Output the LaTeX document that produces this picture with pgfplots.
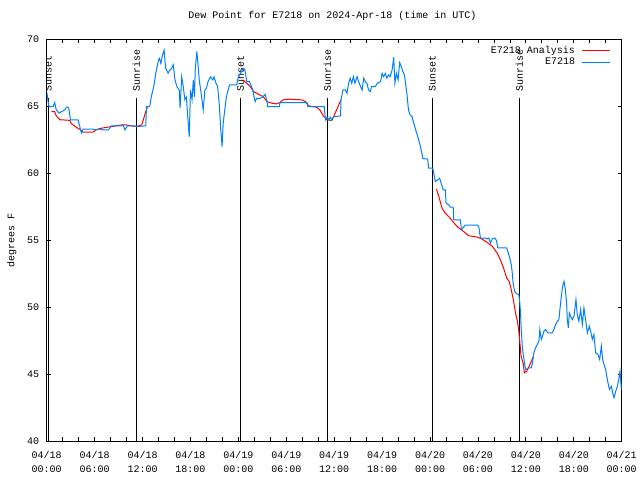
\documentclass[border=0pt]{standalone}
\usepackage{pgfplots}
\pgfplotsset{compat=1.18}
\usepackage{fontspec}
\setmainfont{Liberation Mono}
\definecolor{gblue}{RGB}{0,128,255}
\definecolor{gred}{RGB}{255,0,0}
\begin{document}
\begin{tikzpicture}[font=\fontsize{10bp}{14bp}\selectfont]
\path[use as bounding box] (0,0) rectangle (640bp,480bp);
\begin{axis}[
  at={(46.7bp,38.7bp)}, anchor=south west,
  scale only axis, width=575bp, height=402bp,
  xmin=0, xmax=72, ymin=40, ymax=70,
  xtick={0,6,...,72}, minor x tick num=2,
  xticklabels={{04/18\\00:00},{04/18\\06:00},{04/18\\12:00},{04/18\\18:00},{04/19\\00:00},{04/19\\06:00},{04/19\\12:00},{04/19\\18:00},{04/20\\00:00},{04/20\\06:00},{04/20\\12:00},{04/20\\18:00},{04/21\\00:00}},
  xticklabel style={align=center, font=\fontsize{10bp}{14bp}\selectfont, yshift=-6bp},
  ytick={40,45,...,70},
  yticklabel style={xshift=-4bp},
  tick align=inside, major tick length=4bp, minor tick length=4bp,
  tick style={black, line width=0.8bp},
  axis line style={line width=1bp},
  /pgf/number format/assume math mode=true,
  title={Dew Point for E7218 on 2024-Apr-18 (time in UTC)},
  title style={at={(0.5,1)}, anchor=center, yshift=17.6bp, xshift=-1.7bp},
  ylabel={degrees F},
  ylabel style={at={(axis description cs:0,0.5)}, anchor=center, yshift=35bp},
  legend style={draw=none, fill=none, at={(1,1)}, anchor=north east, xshift=-11bp, yshift=-5.5bp,
    font=\fontsize{10bp}{12bp}\selectfont, row sep=0bp, inner sep=0pt, nodes={inner sep=1.5bp},
    /tikz/every even column/.append style={column sep=5bp}},
  legend plot pos=right, legend cell align=right,
  legend image code/.code={\draw[#1] (0bp,0bp) -- (28bp,0bp);},
  legend entries={E7218 Analysis\hspace*{5bp}, E7218\hspace*{5bp}},
]
% sunrise / sunset markers
\addplot[black, line width=1bp, forget plot] coordinates {(0.2,40)(0.2,65.6)};
\addplot[black, line width=1bp, forget plot] coordinates {(11.22,40)(11.22,65.6)};
\addplot[black, line width=1bp, forget plot] coordinates {(24.29,40)(24.29,65.6)};
\addplot[black, line width=1bp, forget plot] coordinates {(35.14,40)(35.14,65.6)};
\addplot[black, line width=1bp, forget plot] coordinates {(48.28,40)(48.28,65.6)};
\addplot[black, line width=1bp, forget plot] coordinates {(59.18,40)(59.18,65.6)};
\node[rotate=90, anchor=west] at (axis cs:0.2,65.82) {Sunset};
\node[rotate=90, anchor=west] at (axis cs:11.22,65.82) {Sunrise};
\node[rotate=90, anchor=west] at (axis cs:24.29,65.82) {Sunset};
\node[rotate=90, anchor=west] at (axis cs:35.14,65.82) {Sunrise};
\node[rotate=90, anchor=west] at (axis cs:48.28,65.82) {Sunset};
\node[rotate=90, anchor=west] at (axis cs:59.18,65.82) {Sunrise};
% analysis (red)
\addplot[gred, line width=1bp] coordinates {
(0.59,64.6)(1.0,64.6)(1.2,64.28)(1.63,64.0)(2.9,63.95)(3.1,63.7)(3.7,63.44)(4.1,63.3)(4.56,63.07)(5.8,63.07)(6.2,63.24)(6.65,63.34)(7.3,63.41)(8.1,63.49)(9.37,63.61)(10.0,63.61)(10.6,63.54)(11.25,63.49)(11.9,63.61)(12.1,63.99)(12.4,64.6)(12.6,64.93)};
\addplot[gred, line width=1bp, forget plot] coordinates {
(24.6,66.97)(25.05,66.72)(25.5,66.47)(25.9,66.1)(26.3,65.97)(27.1,65.72)(27.6,65.35)(28.2,65.23)(28.8,65.18)(29.2,65.28)(29.6,65.48)(30.3,65.53)(31.95,65.48)(32.4,65.35)(32.8,65.03)(33.8,64.93)(34.2,64.73)(34.7,64.23)(35.1,64.0)(35.7,63.94)(35.9,64.19)(36.3,64.73)(36.7,65.28)(36.85,65.48)};
\addplot[gred, line width=1bp, forget plot] coordinates {
(48.8,58.82)(49.1,58.27)(49.5,57.4)(49.9,57.03)(50.5,56.66)(51.0,56.29)(51.6,55.92)(52.2,55.66)(52.85,55.34)(53.9,55.24)(54.5,55.1)(55.15,54.84)(55.8,54.55)(56.4,54.05)(56.8,53.56)(57.2,52.94)(57.6,52.19)(57.9,51.94)(58.1,51.5)(58.3,50.95)(58.5,50.33)(58.7,49.58)(58.9,49.08)(59.1,48.34)(59.25,47.35)(59.4,46.35)(59.7,45.73)(59.8,45.11)(60.1,45.23)(60.4,45.6)(60.7,45.98)(60.9,46.3)};
% observations (blue)
\addplot[gblue, line width=1bp] coordinates {
(0.04,66.0)(0.17,65.35)(0.29,64.98)(0.8,64.98)(1.0,65.28)(1.2,64.73)(1.55,64.5)(1.84,64.6)(2.26,64.73)(2.47,64.93)(2.67,64.93)(2.8,64.73)(2.97,63.99)(3.93,63.99)(4.14,63.5)(4.35,63.0)(4.56,63.3)(5.8,63.3)(6.0,63.24)(6.65,63.3)(7.06,63.24)(7.7,63.24)(7.9,63.37)(8.1,63.54)(9.37,63.54)(9.57,63.6)(9.8,63.24)(10.1,63.54)(10.8,63.54)(11.46,63.5)(12.4,63.54)(12.5,64.98)(12.9,64.98)(13.1,65.72)(13.4,66.47)(13.7,67.6)(14.0,68.46)(14.1,68.58)(14.3,68.2)(14.5,68.83)(14.7,69.2)(14.8,68.46)(14.9,67.84)(15.2,67.47)(15.4,67.7)(15.6,67.77)(15.85,68.1)(16.06,66.97)(16.3,66.47)(16.6,66.2)(16.7,64.86)(16.9,67.2)(17.1,66.47)(17.3,65.5)(17.5,65.7)(17.6,64.7)(17.85,62.74)(18.0,66.2)(18.2,65.5)(18.36,66.97)(18.5,65.7)(18.6,67.7)(18.8,69.1)(18.9,68.46)(19.1,66.97)(19.4,65.7)(19.6,64.73)(19.8,66.2)(20.0,66.35)(20.2,66.84)(20.5,67.2)(20.8,66.97)(20.95,67.2)(21.2,66.72)(21.4,66.47)(21.6,65.23)(21.8,63.24)(21.96,62.0)(22.1,63.74)(22.3,64.73)(22.5,65.72)(22.9,66.6)(23.8,66.6)(23.9,66.97)(24.1,67.34)(24.4,67.59)(24.6,67.84)(24.8,67.77)(25.06,66.84)(25.4,66.84)(25.56,66.6)(25.8,66.22)(26.0,65.6)(26.1,65.35)(26.3,65.6)(26.7,65.6)(27.1,65.72)(27.35,65.9)(27.6,65.35)(27.65,64.98)(29.15,64.98)(29.2,65.28)(32.6,65.28)(32.7,64.98)(34.75,64.98)(34.9,63.99)(35.1,64.19)(35.3,63.99)(35.5,64.19)(35.7,63.99)(35.9,64.23)(36.8,64.28)(36.85,65.48)(37.1,66.22)(37.4,66.22)(37.6,65.97)(37.8,66.72)(38.0,67.1)(38.2,66.72)(38.4,67.21)(38.6,66.72)(38.86,67.21)(39.06,66.84)(39.3,66.47)(39.5,66.22)(39.7,67.1)(39.9,66.84)(40.1,66.72)(40.3,66.22)(40.5,66.1)(40.7,66.47)(41.15,66.47)(41.4,66.72)(41.8,66.84)(42.0,67.46)(42.2,67.21)(42.4,67.46)(42.6,67.1)(42.8,67.34)(43.0,67.21)(43.25,67.71)(43.45,68.66)(43.6,66.72)(43.8,67.46)(44.0,66.97)(44.2,68.26)(44.4,67.96)(44.6,67.59)(44.8,67.34)(45.1,65.97)(45.3,64.73)(45.5,64.36)(45.75,64.23)(45.96,63.74)(46.2,63.24)(46.4,62.87)(46.8,62.0)(47.0,61.4)(47.1,61.1)(47.7,61.06)(47.83,60.39)(48.33,60.39)(48.46,60.01)(48.67,59.39)(49.0,59.52)(49.2,59.64)(49.39,59.27)(49.64,58.77)(49.92,58.77)(50.0,57.78)(50.34,57.65)(50.55,57.48)(50.9,57.48)(50.97,56.53)(51.8,56.53)(51.93,55.79)(52.22,55.99)(52.43,56.14)(53.9,56.14)(54.1,56.04)(54.31,55.17)(54.94,55.17)(55.15,55.1)(55.36,55.17)(55.57,54.8)(55.78,55.1)(56.1,55.17)(56.32,54.99)(56.48,54.43)(57.58,54.43)(57.74,54.17)(57.99,53.68)(58.17,53.18)(58.29,52.6)(58.4,51.82)(58.58,51.2)(58.83,51.02)(59.12,50.95)(59.24,50.33)(59.33,49.58)(59.42,48.34)(59.55,47.1)(59.67,46.48)(59.83,45.86)(59.96,45.36)(60.17,45.41)(60.37,45.48)(60.67,45.48)(60.84,45.86)(61.0,46.6)(61.21,46.97)(61.43,47.22)(61.63,47.47)(61.75,48.34)(61.93,47.6)(62.09,47.84)(62.25,48.21)(62.47,48.34)(62.76,48.09)(63.31,48.09)(63.51,48.34)(63.72,48.71)(63.94,48.96)(64.14,49.08)(64.26,49.83)(64.44,50.82)(64.6,51.56)(64.77,51.94)(64.94,51.32)(65.1,50.33)(65.19,49.08)(65.32,48.46)(65.44,49.58)(65.6,49.33)(65.82,49.08)(66.02,49.33)(66.27,50.57)(66.44,49.45)(66.64,48.96)(66.86,49.83)(67.07,48.71)(67.27,49.95)(67.48,49.08)(67.7,48.09)(67.95,48.59)(68.11,48.21)(68.32,47.6)(68.52,47.97)(68.74,46.6)(69.03,46.48)(69.24,46.1)(69.45,47.1)(69.62,46.1)(69.78,45.73)(69.99,45.36)(70.2,44.61)(70.46,43.87)(70.71,44.11)(70.87,43.62)(71.04,43.25)(71.25,43.74)(71.46,44.11)(71.66,44.74)(71.79,45.23)(71.96,43.87)};
\end{axis}
\end{tikzpicture}
\end{document}
